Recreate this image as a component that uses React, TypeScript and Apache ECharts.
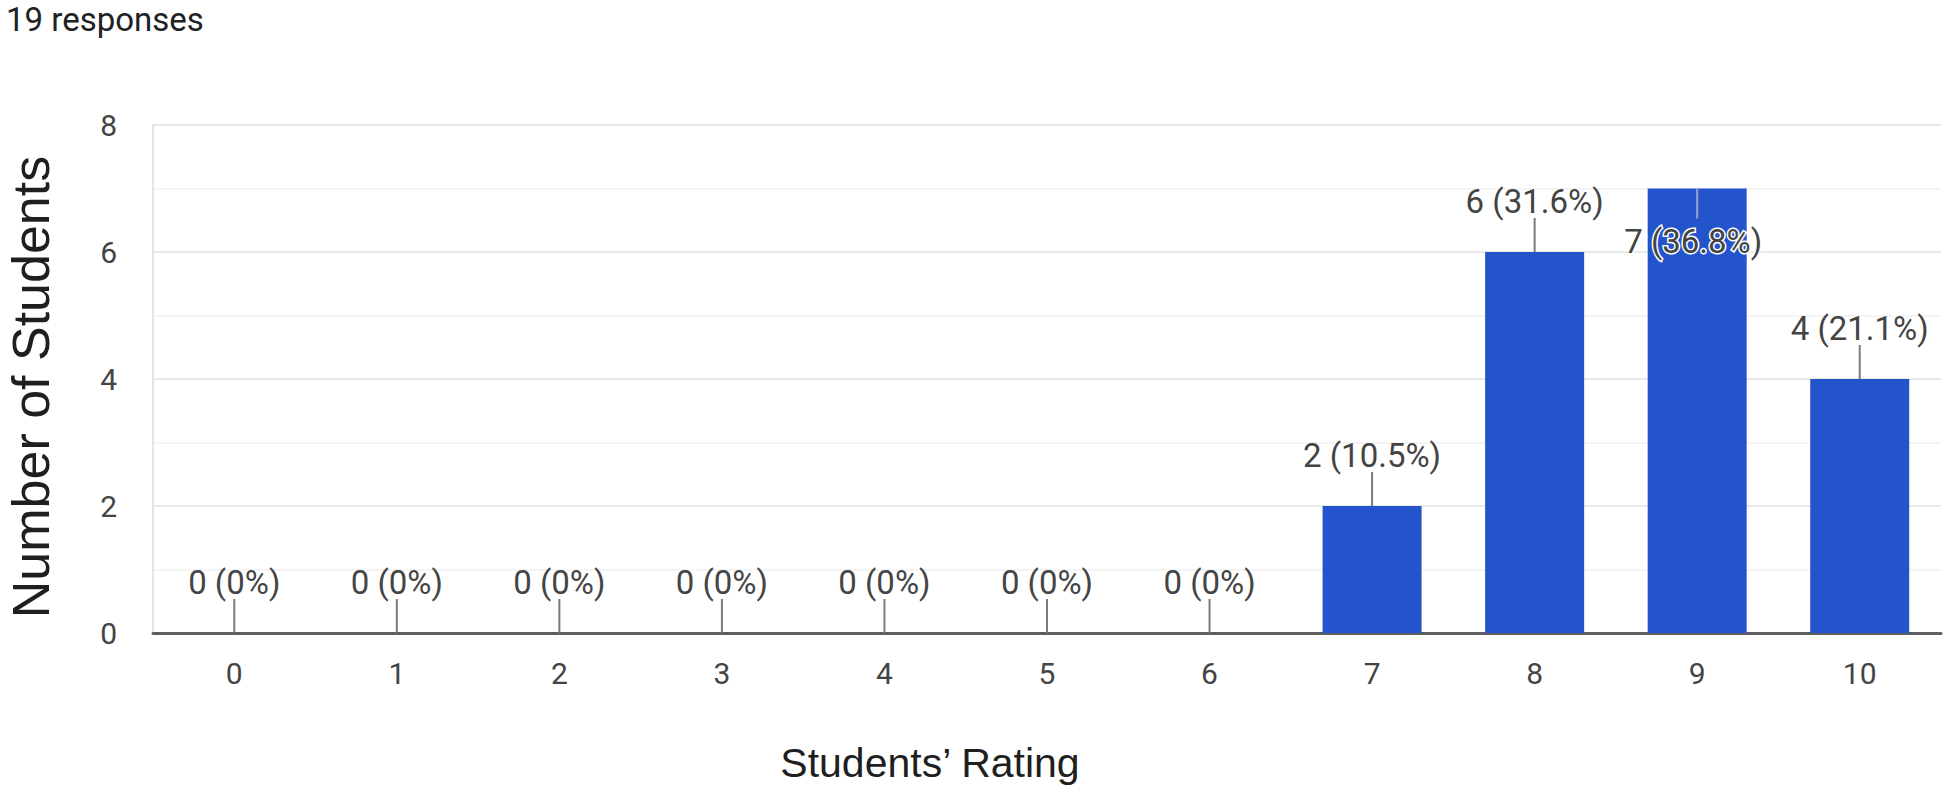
import React, { useEffect, useRef } from "react";
import * as echarts from "echarts";

const categories = ["0", "1", "2", "3", "4", "5", "6", "7", "8", "9", "10"];
const counts = [0, 0, 0, 0, 0, 0, 0, 2, 6, 7, 4];
const totalResponses = 19;
const yTicks = { min: 0, max: 8, interval: 2 };
const headerText = "19 responses";
const yTitle = "Number of Students";
const xTitle = "Students\u2019 Rating";

const GRID = { left: 153, right: 3, top: 125, bottom: 161 };
const BAR_COLOR = "#2354cc";
const LABEL_FONT = "Roboto, 'Noto Sans', sans-serif";
const TITLE_FONT = "'Liberation Sans', Arial, sans-serif";

function pctText(v: number): string {
  const p = (v / totalResponses) * 100;
  const s = p === 0 ? "0" : p.toFixed(1);
  return `${v} (${s}%)`;
}

export default function App() {
  const ref = useRef<HTMLDivElement>(null);

  useEffect(() => {
    if (!ref.current) return;
    const chart = echarts.init(ref.current, undefined, { renderer: "svg" });
    const option: any = {
      animation: false,
      backgroundColor: "#ffffff",
      grid: { ...GRID, containLabel: false },
      xAxis: {
        type: "category",
        data: categories,
        axisLine: { show: true, lineStyle: { color: "#5f5f5f", width: 3 } },
        axisTick: { show: false },
        axisLabel: {
          color: "#444",
          fontSize: 30,
          fontFamily: LABEL_FONT,
          margin: 25,
        },
        splitLine: { show: false },
      },
      yAxis: {
        type: "value",
        min: yTicks.min,
        max: yTicks.max,
        interval: yTicks.interval,
        axisLine: { show: true, lineStyle: { color: "#e4e4e4", width: 2 } },
        axisTick: { show: false },
        axisLabel: {
          color: "#444",
          fontSize: 30,
          fontFamily: LABEL_FONT,
          margin: 36,
        },
        splitLine: { show: true, lineStyle: { color: "#e9e9e9", width: 2 } },
        minorTick: { show: false, splitNumber: 2 },
        minorSplitLine: { show: true, lineStyle: { color: "#f4f4f4", width: 2 } },
      },
      series: [
        {
          type: "bar",
          data: counts,
          barWidth: 99,
          itemStyle: { color: BAR_COLOR },
          z: 2,
        },
        {
          type: "custom",
          clip: false,
          z: 5,
          data: counts.map((v, i) => [i, v]),
          renderItem: (params: any, api: any) => {
            const idx = api.value(0);
            const v = api.value(1);
            const p = api.coord([idx, v]);
            const inside = p[1] - 80 < GRID.top;
            const lineEnd = inside ? p[1] + 30 : p[1] - 34;
            const textY = inside ? p[1] + 53 : p[1] - 51;
            return {
              type: "group",
              children: [
                {
                  type: "line",
                  shape: { x1: p[0], y1: p[1], x2: p[0], y2: lineEnd },
                  style: { stroke: inside ? "#9aa4c8" : "#7a7a7a", lineWidth: 2 },
                },
                {
                  type: "text",
                  style: {
                    text: pctText(v),
                    x: inside ? p[0] - 4 : p[0],
                    y: textY,
                    align: "center",
                    verticalAlign: "middle",
                    fontSize: 33,
                    fontFamily: LABEL_FONT,
                    fill: "#444",
                    stroke: inside ? "#ffffff" : undefined,
                    lineWidth: inside ? 3 : 0,
                  },
                },
              ],
            };
          },
        },
      ],
      graphic: [
        {
          type: "text",
          left: 6,
          top: 3,
          style: {
            text: headerText,
            fontSize: 33,
            fontFamily: LABEL_FONT,
            fill: "#202124",
          },
        },
        {
          type: "text",
          x: 31,
          y: 387,
          rotation: Math.PI / 2,
          style: {
            text: yTitle,
            fontSize: 52,
            fontFamily: TITLE_FONT,
            fill: "#1f1f1f",
            align: "center",
            verticalAlign: "middle",
          },
        },
        {
          type: "text",
          x: 930,
          y: 763,
          style: {
            text: xTitle,
            fontSize: 41,
            fontFamily: TITLE_FONT,
            fill: "#1f1f1f",
            align: "center",
            verticalAlign: "middle",
          },
        },
      ],
    };
    chart.setOption(option);
    return () => chart.dispose();
  }, []);

  return (
    <div
      ref={ref}
      style={{ position: "absolute", left: 0, top: 0, width: 1944, height: 794 }}
    />
  );
}
